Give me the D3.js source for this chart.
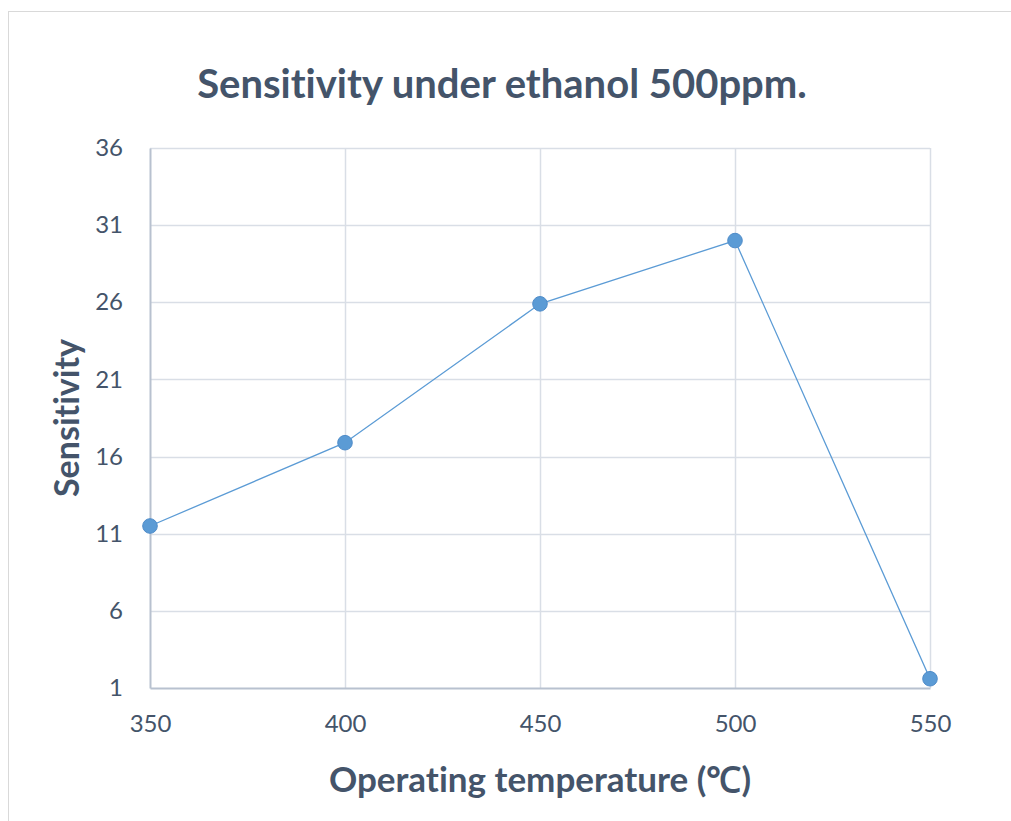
<!DOCTYPE html>
<html>
<head>
<meta charset="utf-8">
<script src="https://cdn.jsdelivr.net/npm/d3@7"></script>
<style>
  body { margin: 0; background: #fff; }
  #chart { width: 1011px; height: 821px; }
  text { font-family: Lato, "Open Sans", sans-serif; fill: #44546A; font-variant-ligatures: none; }
</style>
</head>
<body>
<div id="chart"></div>
<script>
// data
var temps = [350, 400, 450, 500, 550];
var sensitivity = [11.5, 16.9, 25.9, 30.0, 1.6];
var yTicks = [1, 6, 11, 16, 21, 26, 31, 36];
var xTicks = [350, 400, 450, 500, 550];

var width = 1011, height = 821;
var svg = d3.select("#chart").append("svg")
    .attr("width", width)
    .attr("height", height);

// chart frame
svg.append("rect")
    .attr("x", 8.5).attr("y", 11.5)
    .attr("width", 1010).attr("height", 820)
    .attr("fill", "#fff")
    .attr("stroke", "#D9D9D9");

var x = d3.scaleLinear().domain([350, 550]).range([150, 930]);
var y = d3.scaleLinear().domain([1, 36]).range([688, 148]);

// gridlines
svg.append("g").selectAll("line.h")
    .data(yTicks.slice(1))
    .enter().append("line")
    .attr("x1", x(350)).attr("x2", x(550))
    .attr("y1", function(d) { return Math.round(y(d)) + 0.5; })
    .attr("y2", function(d) { return Math.round(y(d)) + 0.5; })
    .attr("stroke", "#D9DEE6").attr("stroke-width", 1.5);

svg.append("g").selectAll("line.v")
    .data(xTicks.slice(1))
    .enter().append("line")
    .attr("y1", y(1)).attr("y2", y(36))
    .attr("x1", function(d) { return Math.round(x(d)) + 0.5; })
    .attr("x2", function(d) { return Math.round(x(d)) + 0.5; })
    .attr("stroke", "#D9DEE6").attr("stroke-width", 1.5);

// axes
var yAxis = d3.axisLeft(y).tickValues(yTicks).tickSize(0).tickPadding(27);
var gy = svg.append("g").attr("transform", "translate(" + x(350) + ",0)").call(yAxis);
gy.select(".domain").attr("stroke", "#B8C1CF").attr("stroke-width", 2);
gy.selectAll("text").style("font-size", "24px").attr("fill", "#44546A");

var xAxis = d3.axisBottom(x).tickValues(xTicks).tickSize(0).tickPadding(27);
var gx = svg.append("g").attr("transform", "translate(0," + y(1) + ")").call(xAxis);
gx.select(".domain").attr("stroke", "#B8C1CF").attr("stroke-width", 2);
gx.selectAll("text").style("font-size", "24px").attr("fill", "#44546A");

// series
var data = temps.map(function(t, i) { return { t: t, s: sensitivity[i] }; });

svg.append("path")
    .datum(data)
    .attr("fill", "none")
    .attr("stroke", "#5B9BD5")
    .attr("stroke-width", 1.3)
    .attr("d", d3.line()
        .x(function(d) { return x(d.t); })
        .y(function(d) { return y(d.s); }));

svg.selectAll("circle")
    .data(data)
    .enter().append("circle")
    .attr("cx", function(d) { return x(d.t); })
    .attr("cy", function(d) { return y(d.s); })
    .attr("r", 7.3)
    .attr("fill", "#5B9BD5")
    .attr("stroke", "#4F8CC9")
    .attr("stroke-width", 1);

// titles
svg.append("text")
    .attr("x", 502).attr("y", 98)
    .attr("text-anchor", "middle")
    .style("font-size", "40px").style("font-weight", "bold")
    .text("Sensitivity under ethanol 500ppm.");

svg.append("text")
    .attr("x", 540).attr("y", 792)
    .attr("text-anchor", "middle")
    .style("font-size", "35px").style("font-weight", "bold")
    .text("Operating temperature (℃)");

svg.append("text")
    .attr("transform", "translate(79,418) rotate(-90)")
    .attr("text-anchor", "middle")
    .style("font-size", "34px").style("font-weight", "bold")
    .text("Sensitivity");
</script>
</body>
</html>
